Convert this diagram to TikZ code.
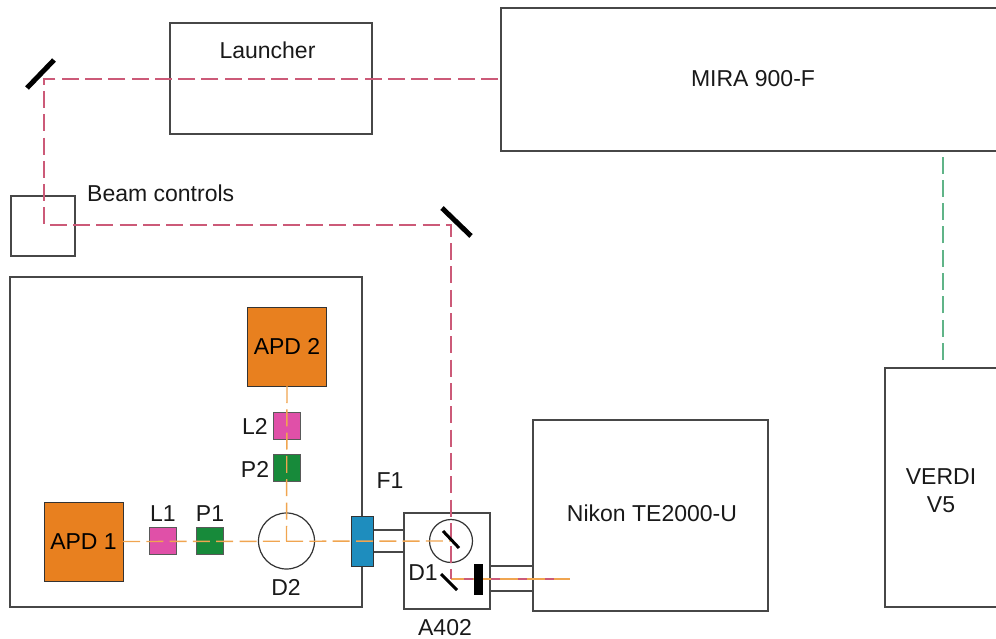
\documentclass[tikz,border=0pt]{standalone}
\usepackage{fontspec}
\setmainfont{Liberation Sans}
\definecolor{apdc}{HTML}{E8801F}
\definecolor{lensc}{HTML}{E050A8}
\definecolor{polc}{HTML}{178A3A}
\definecolor{bluec}{HTML}{1E8DBE}
\definecolor{redc}{HTML}{CC5A78}
\definecolor{orc}{HTML}{F0A550}
\definecolor{grc}{HTML}{60B488}
\tikzset{
  x=1pt,y=-1pt,
  box/.style={draw=black!72,line width=1.2pt,fill=none},
  apd/.style={draw=black!80,line width=1pt,fill=apdc,inner sep=0pt,outer sep=0pt,minimum width=79pt,minimum height=79pt,font=\fontsize{23}{28}\selectfont},
  lens/.style={draw=black!65,line width=1pt,fill=lensc,inner sep=0pt,outer sep=0pt,minimum size=27pt},
  pol/.style={draw=black!65,line width=1pt,fill=polc,inner sep=0pt,outer sep=0pt,minimum size=27pt},
  lab/.style={font=\fontsize{23}{28}\selectfont,inner sep=0pt,text=black!90},
  redbeam/.style={draw=redc,line width=1.4pt,dash pattern=on 17pt off 6.3pt},
  orbeam/.style={draw=orc,line width=1.4pt,dash pattern=on 17pt off 6.3pt},
  grbeam/.style={draw=grc,line width=1.4pt,dash pattern=on 17pt off 6.3pt},
  mirror/.style={draw=black,line width=5pt},
  thinm/.style={draw=black,line width=3pt},
}
\begin{document}
\begin{tikzpicture}
\useasboundingbox (0,0) rectangle (996,639);
\clip (0,0) rectangle (996,639);
% outlines
\node[box,inner sep=0,minimum width=202pt,minimum height=111pt] (launcher) at (271,78.5) {};
\node[lab] (launchertext) at (267.5,50) {Launcher};
\draw[box] (996,8) -- (501,8) -- (501,151) -- (996,151);
\coordinate (miraleft) at (498,79);
\node[lab] (mira) at (753,79) {MIRA 900-F};
\node[box,inner sep=0,minimum width=64pt,minimum height=60pt] (beam) at (43,226) {};
\node[lab,anchor=west] (beamtext) at (87,193) {Beam controls};
\node[box,inner sep=0,minimum width=352pt,minimum height=330pt] (enclosure) at (186,442) {};
\node[box,inner sep=0,minimum width=235pt,minimum height=191pt] (nikon) at (650.5,515.5) {};
\node[lab] (nikontext) at (652,513) {Nikon TE2000-U};
\draw[box] (996,368) -- (885,368) -- (885,607) -- (996,607);
\node[lab,align=center] (verdi) at (941,491) {VERDI\\V5};
\node[box,inner sep=0,minimum width=86pt,minimum height=96pt] (a402) at (447,561) {};
\node[lab] (a402text) at (445,628) {A402};
% tubes
\draw[box] (373,530) -- (404,530) (373,552) -- (404,552);
\draw[box] (490,566) -- (533,566) (490,591) -- (533,591);
% filled components
\node[lens] (l1) at (162.5,540.5) {};
\node[pol] (p1) at (209.5,540.5) {};
\node[lens] (l2) at (286.5,425.5) {};
\node[pol] (p2) at (286.5,467.5) {};
\node[apd] (apd1) at (83.5,541.5) {APD 1};
\node[apd] (apd2) at (287,346.5) {APD 2};
\node[draw=black!80,line width=1.2pt,circle,minimum size=56pt,inner sep=0] (d2) at (286.5,541) {};
\node[draw=black!80,line width=1.2pt,circle,minimum size=43pt,inner sep=0] (d1c) at (451,541) {};
\node[draw=black!80,line width=1pt,fill=bluec,inner sep=0,outer sep=0,minimum width=22pt,minimum height=50pt] (f1) at (362,541) {};
% beam corners
\coordinate (c1) at (44,79);
\coordinate (c2) at (44,225);
\coordinate (c3) at (451,225);
\coordinate (c4) at (451,579);
\coordinate (end) at (570,579);
\coordinate (vtop) at (943,155);
\coordinate (vbot) at (943,360);
% beams
\draw[orbeam] (apd1.east) -- (d1c.center);
\draw[orbeam] (apd2.south) -- (d2.center);
\draw[orc,line width=1.4pt] (c4) -- (end);
\draw[redbeam] (miraleft) -- (c1) -- (c2) -- (c3) -- (c4);
\draw[redc,line width=1.4pt,dash pattern=on 9pt off 18pt,dash phase=-40pt] (c4) -- (end);
\draw[grbeam] (vbot) -- (vtop);
% mirrors
\draw[mirror] (27,88) -- (54,60);
\draw[mirror] (442,208) -- (471,236);
\draw[thinm] (443,531) -- (459,548);
\draw[thinm] (441,574) -- (457,590);
\fill[black] (474,564) rectangle (483,595);
% labels
\node[lab] (l1t) at (163,514) {L1};
\node[lab] (p1t) at (210,514) {P1};
\node[lab] (l2t) at (255,426) {L2};
\node[lab] (p2t) at (255,469) {P2};
\node[lab] (d2t) at (286,587) {D2};
\node[lab] (d1t) at (423,573) {D1};
\node[lab] (f1t) at (390,481) {F1};
\end{tikzpicture}
\end{document}
